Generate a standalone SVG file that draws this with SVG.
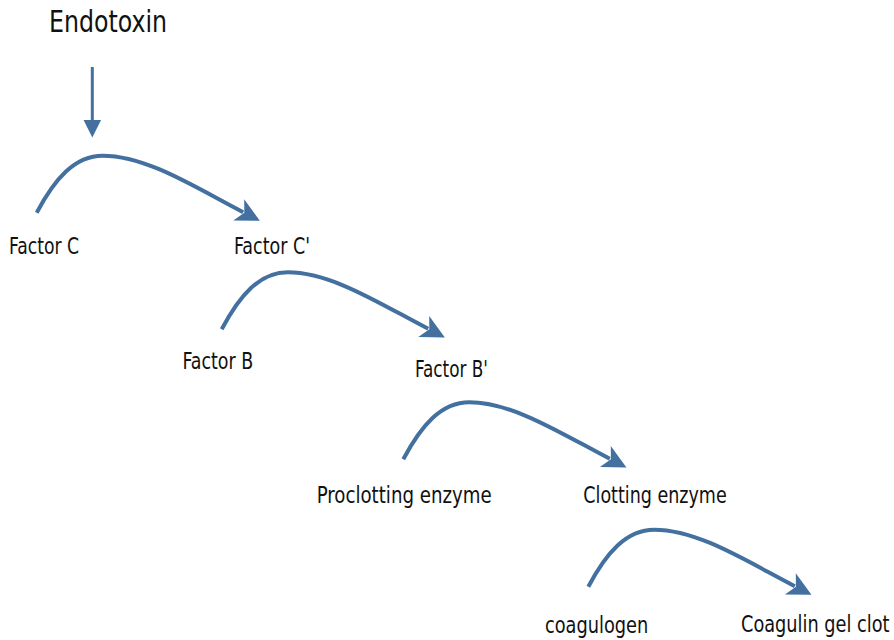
<svg xmlns="http://www.w3.org/2000/svg" width="894" height="640" viewBox="0 0 894 640">
<style>
text{font-family:"DejaVu Sans Condensed","DejaVu Sans",sans-serif;font-stretch:condensed;fill:#111;font-size:23px}
.t{font-size:30px}
.c{fill:none;stroke:#43709f;stroke-width:4;stroke-linecap:butt}
.v{fill:none;stroke:#43709f;stroke-width:3}
</style>
<defs>
<marker id="barb" markerUnits="userSpaceOnUse" markerWidth="30" markerHeight="30" viewBox="-2 -12 24 24" refX="4" refY="0" orient="auto">
<path d="M0,-9.5 L19,0 L0,9.5 L5,0 Z" fill="#43709f"/>
</marker>
<marker id="tri" markerUnits="userSpaceOnUse" markerWidth="20" markerHeight="20" viewBox="0 -8 16 16" refX="0" refY="0" orient="auto">
<path d="M0,-7 L14,0 L0,7 Z" fill="#43709f"/>
</marker>
</defs>
<g id="connectors">
<line class="v" x1="92.3" y1="67" x2="92.3" y2="120" marker-end="url(#tri)"/>
<path class="c" transform="translate(36.7,212.7)" d="M0,0 C18,-34 38,-57 66,-57 C110,-57 159,-25 206.5,-0.5" marker-end="url(#barb)"/>
<path class="c" transform="translate(221.7,329.3)" d="M0,0 C18,-34 38,-57 66,-57 C110,-57 159,-25 206.5,-0.5" marker-end="url(#barb)"/>
<path class="c" transform="translate(403.3,459.3)" d="M0,0 C18,-34 38,-57 66,-57 C110,-57 159,-25 206.5,-0.5" marker-end="url(#barb)"/>
<path class="c" transform="translate(588.3,586.7)" d="M0,0 C18,-34 38,-57 66,-57 C110,-57 159,-25 206.5,-0.5" marker-end="url(#barb)"/>
</g>
<g id="endotoxin"><text class="t" x="49" y="31.7" textLength="118" lengthAdjust="spacingAndGlyphs">Endotoxin</text></g>
<g id="factor-c"><text x="9" y="254" textLength="70" lengthAdjust="spacingAndGlyphs">Factor C</text></g>
<g id="factor-c-prime"><text x="234" y="254" textLength="76" lengthAdjust="spacingAndGlyphs">Factor C'</text></g>
<g id="factor-b"><text x="182.5" y="369.3" textLength="70.7" lengthAdjust="spacingAndGlyphs">Factor B</text></g>
<g id="factor-b-prime"><text x="415" y="376.5" textLength="73" lengthAdjust="spacingAndGlyphs">Factor B'</text></g>
<g id="proclotting-enzyme"><text x="316.7" y="503.3" textLength="175" lengthAdjust="spacingAndGlyphs">Proclotting enzyme</text></g>
<g id="clotting-enzyme"><text x="583.3" y="503.3" textLength="143.4" lengthAdjust="spacingAndGlyphs">Clotting enzyme</text></g>
<g id="coagulogen"><text x="545" y="632.5" textLength="103.3" lengthAdjust="spacingAndGlyphs">coagulogen</text></g>
<g id="coagulin-gel-clot"><text x="741" y="632" textLength="148.5" lengthAdjust="spacingAndGlyphs">Coagulin gel clot</text></g>
</svg>
